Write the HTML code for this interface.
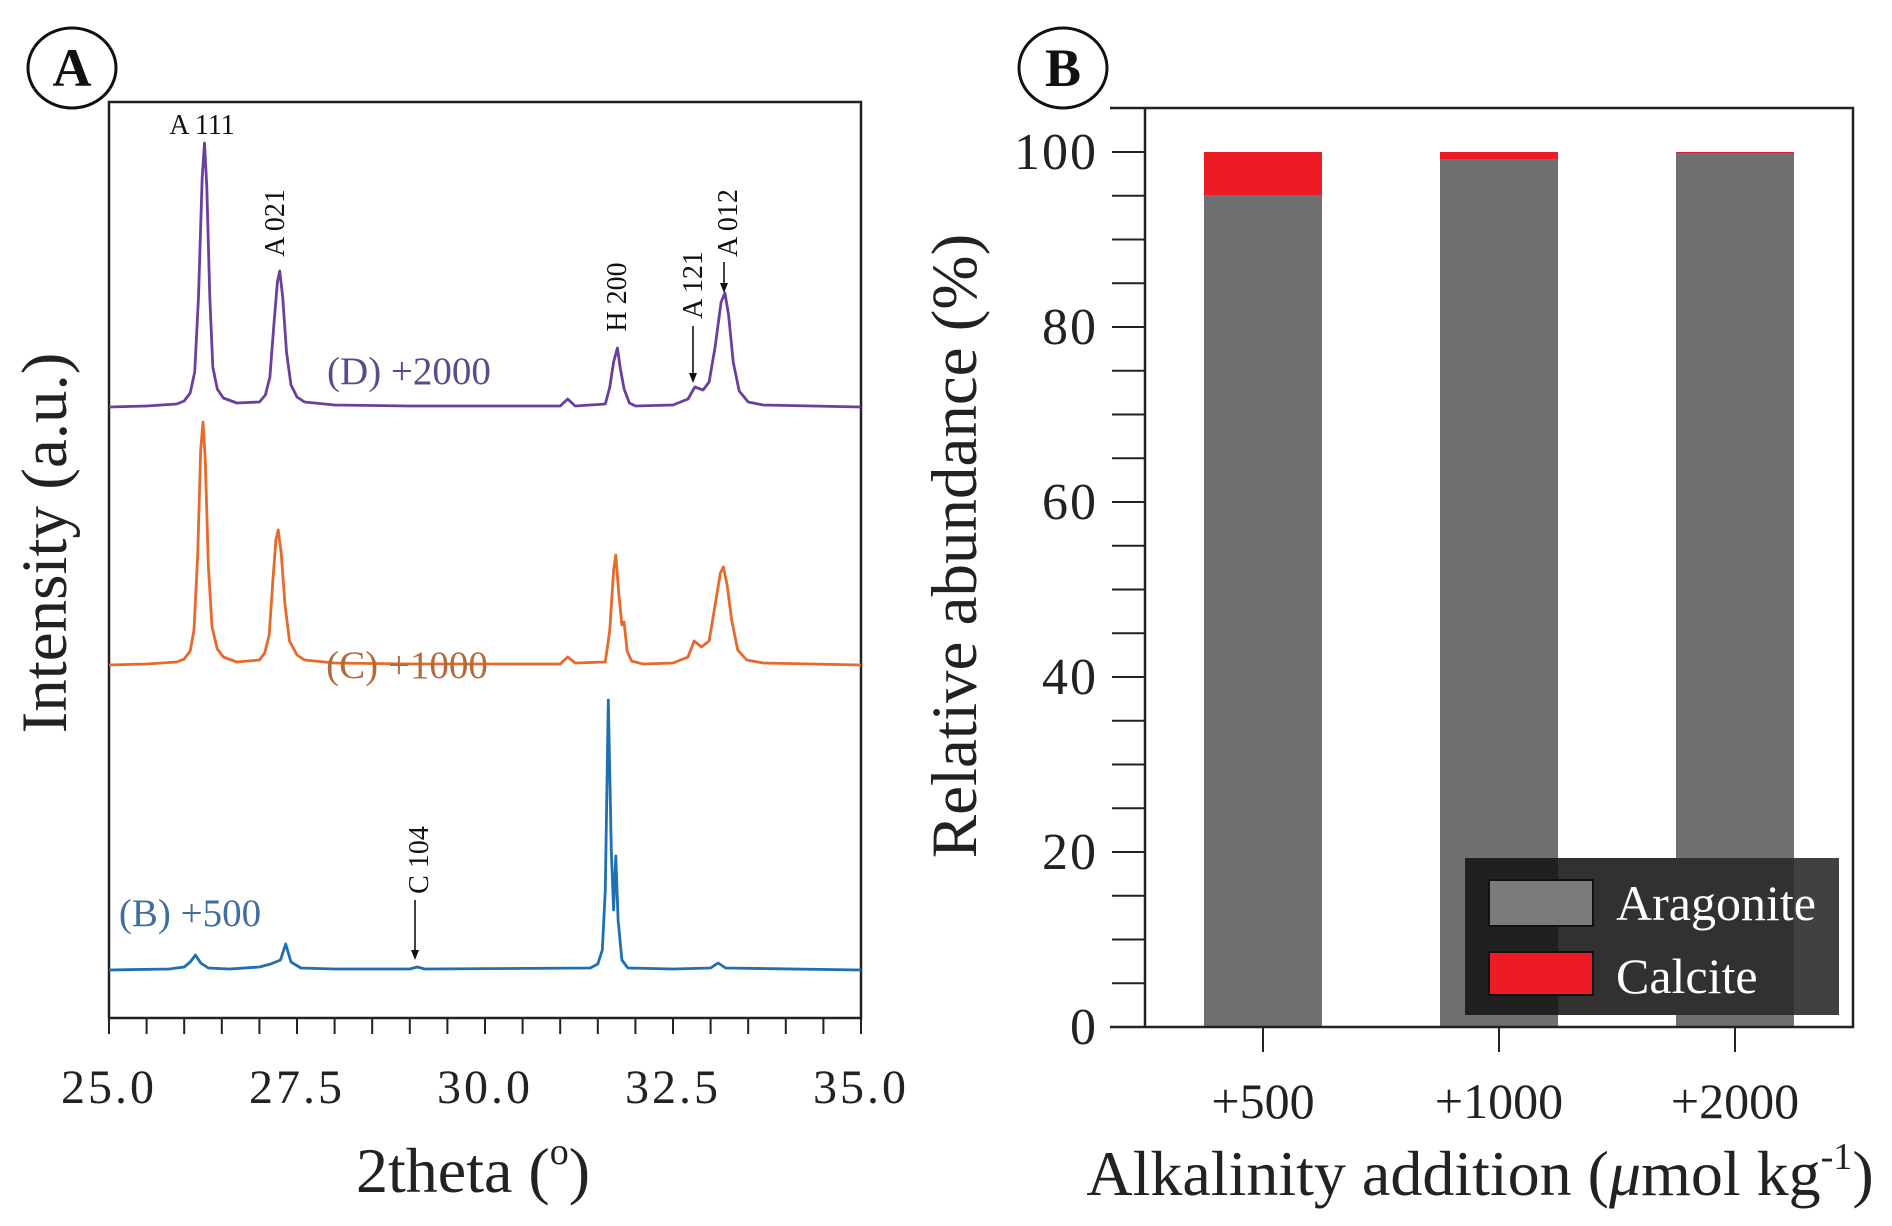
<!DOCTYPE html>
<html><head><meta charset="utf-8"><style>
html,body{margin:0;padding:0;background:#fff;}
svg{display:block;font-family:"Liberation Serif",serif;}
</style></head>
<body>
<svg id="fig" width="1892" height="1226" viewBox="0 0 1892 1226" xmlns="http://www.w3.org/2000/svg">
<g><ellipse cx="72" cy="68" rx="44" ry="40" fill="none" stroke="#111" stroke-width="3"/><text x="72" y="86" font-size="54" font-weight="bold" text-anchor="middle" fill="#111">A</text></g>
<g><ellipse cx="1063" cy="68" rx="44" ry="40" fill="none" stroke="#111" stroke-width="3"/><text x="1063" y="86" font-size="54" font-weight="bold" text-anchor="middle" fill="#111">B</text></g>
<g id="pa"></g>
<g id="pb"></g>
</svg>
<script>
// ---------- Panel A data ----------
const xTicksA = [25.0, 27.5, 30.0, 32.5, 35.0];
const xTickLabelsA = ["25.0", "27.5", "30.0", "32.5", "35.0"];
const seriesNames = ["(D) +2000", "(C) +1000", "(B) +500"];
const seriesOffsets = [611, 353, 48];
const seriesD = [[25,0],[25.5,1],[25.9,3],[26.0,6],[26.08,14],[26.14,35],[26.19,110],[26.24,230],[26.27,264],[26.3,220],[26.34,110],[26.38,40],[26.44,18],[26.52,9],[26.7,4],[27.0,5],[27.08,12],[27.14,30],[27.19,80],[27.24,125],[27.27,136],[27.31,110],[27.36,55],[27.42,22],[27.5,10],[27.6,5],[28,2],[29,1],[30,1],[31.0,1],[31.1,8],[31.2,1],[31.6,3],[31.66,20],[31.71,45],[31.76,59],[31.8,38],[31.85,18],[31.92,4],[32,1],[32.5,2],[32.7,8],[32.79,20],[32.9,17],[32.98,25],[33.06,60],[33.14,105],[33.19,114],[33.24,92],[33.3,45],[33.38,16],[33.5,5],[33.7,2],[35,0]];
const seriesC = [[25,0],[25.5,1],[25.9,3],[26.0,6],[26.08,14],[26.13,35],[26.18,110],[26.22,215],[26.25,243],[26.28,205],[26.32,100],[26.37,38],[26.44,16],[26.52,8],[26.7,3],[27.0,5],[27.07,12],[27.13,30],[27.18,85],[27.22,125],[27.25,135],[27.29,112],[27.34,60],[27.4,24],[27.5,10],[27.6,5],[28,2],[29,1],[30,1],[31.0,1],[31.1,8],[31.2,2],[31.6,3],[31.66,35],[31.71,95],[31.74,110],[31.78,70],[31.82,40],[31.85,43],[31.89,14],[31.95,4],[32.1,1],[32.5,2],[32.7,8],[32.78,24],[32.88,18],[32.98,24],[33.06,60],[33.13,92],[33.17,98],[33.22,80],[33.28,45],[33.36,15],[33.48,5],[33.7,2],[35,0]];
const seriesB = [[25,0],[25.8,1],[26.0,3],[26.08,8],[26.15,15],[26.22,7],[26.32,2],[26.6,1],[27.0,3],[27.15,6],[27.28,10],[27.35,26],[27.42,8],[27.55,2],[28,1],[29.0,1],[29.1,3],[29.2,1],[31.4,2],[31.5,6],[31.56,20],[31.6,80],[31.64,270],[31.68,120],[31.71,60],[31.74,114],[31.77,50],[31.82,10],[31.9,2],[32.5,1],[33.0,2],[33.1,7],[33.2,2],[35,0]];
const seriesColors = ["#6a3fa0", "#e8692a", "#1f6fb5"];
const labelColors = ["#5b4a8e", "#b56a3a", "#3f6f9f"];
// ---------- Panel B data ----------
const categoriesB = ["+500", "+1000", "+2000"];
const aragonite = [95, 99.2, 99.8];
const calcite = [5, 0.8, 0.2];
const yTicksB = [0, 20, 40, 60, 80, 100];

const NS = "http://www.w3.org/2000/svg";
function mk(parent, tag, attrs, txt) {
  const e = document.createElementNS(NS, tag);
  for (const k in attrs) e.setAttribute(k, attrs[k]);
  if (txt !== undefined) e.textContent = txt;
  parent.appendChild(e);
  return e;
}
// ---------- Panel A ----------
const pa = document.getElementById("pa");
const AX0 = 109, AX1 = 861, AY0 = 102, AY1 = 1018;
const xA = v => AX0 + (v - 25) / 10 * (AX1 - AX0);
const yA = v => AY1 - v;
let e;
e = mk(pa, "rect", {x: AX0, y: AY0, width: AX1 - AX0, height: AY1 - AY0, fill: "none", stroke: "#222", "stroke-width": 2.5});


for (let v = 25; v <= 35.001; v += 0.5) {
  e = mk(pa, "line", {x1: xA(v), x2: xA(v), y1: AY1, y2: AY1 + 16, stroke: "#222", "stroke-width": 2});
  
  
}
xTicksA.forEach((v, i) => {
  e = mk(pa, "text", {x: xA(v), y: 1103, "font-size": 48, "text-anchor": "middle", fill: "#222", "letter-spacing": 3}, xTickLabelsA[i]);
  
  
});
e = mk(pa, "text", {x: 473, y: 1192, "font-size": 64, "text-anchor": "middle", fill: "#222"});
e.innerHTML = '2theta (<tspan font-size="38" dy="-28">o</tspan><tspan dy="28">)</tspan>';


e = mk(pa, "text", {x: 0, y: 0, "font-size": 65, "text-anchor": "middle", fill: "#222", transform: "translate(66,543) rotate(-90)"}, "Intensity (a.u.)");


const allSeries = [seriesD, seriesC, seriesB];
allSeries.forEach((s, i) => {
  const d = s.map((p, j) => (j ? "L" : "M") + xA(p[0]).toFixed(1) + " " + yA(p[1] + seriesOffsets[i]).toFixed(1)).join(" ");
  e = mk(pa, "path", {d: d, fill: "none", stroke: seriesColors[i], "stroke-width": 2.8, "stroke-linejoin": "round"});
  
  
});
[[409, 384], [407, 678], [190, 926]].forEach((p, i) => {
  e = mk(pa, "text", {x: p[0], y: p[1], "font-size": 39, "text-anchor": "middle", fill: labelColors[i]}, seriesNames[i]);
  
  
});
e = mk(pa, "text", {x: 202, y: 134, "font-size": 28, "text-anchor": "middle", fill: "#111"}, "A 111");


[["A 021", 275, 223], ["H 200", 617, 297], ["A 121", 693, 285], ["A 012", 728, 223], ["C 104", 419, 860]].forEach(l => {
  e = mk(pa, "text", {x: 0, y: 0, "font-size": 28, "text-anchor": "middle", fill: "#111", transform: `translate(${l[1] + 9},${l[2]}) rotate(-90)`}, l[0]);
  
  
});
[[693, 326, 693, 383], [724, 262, 724, 293], [415, 900, 415, 960]].forEach(a => {
  e = mk(pa, "line", {x1: a[0], y1: a[1], x2: a[2], y2: a[3] - 8, stroke: "#111", "stroke-width": 1.6});
  
  
  mk(pa, "polygon", {points: `${a[2] - 4},${a[3] - 10} ${a[2] + 4},${a[3] - 10} ${a[2]},${a[3]}`, fill: "#111"});
});
// ---------- Panel B ----------
const pb = document.getElementById("pb");
const BX0 = 1145, BX1 = 1853, BY0 = 108, BY1 = 1027;
const yB = v => BY1 - v / 100 * 875;
const xB = i => 1263 + i * 236;
const barW = 118;
categoriesB.forEach((c, i) => {
  e = mk(pb, "rect", {x: xB(i) - barW / 2, y: yB(aragonite[i]), width: barW, height: yB(0) - yB(aragonite[i]), fill: "#707072"});
  
  
  e = mk(pb, "rect", {x: xB(i) - barW / 2, y: yB(aragonite[i] + calcite[i]), width: barW, height: yB(aragonite[i]) - yB(aragonite[i] + calcite[i]), fill: "#ed1c24"});
  
  
});
mk(pb, "path", {d: `M1110 ${BY0} H${BX1} V${BY1} H1110 M${BX0} ${BY0} V${BY1}`, fill: "none", stroke: "#222", "stroke-width": 2.5});
for (let v = 0; v <= 100; v += 5) {
  e = mk(pb, "line", {x1: BX0 - 33, x2: BX0, y1: yB(v), y2: yB(v), stroke: "#222", "stroke-width": 2});
  
  
}
yTicksB.forEach(v => {
  e = mk(pb, "text", {x: 1098, y: yB(v) + 17, "font-size": 52, "text-anchor": "end", fill: "#222", "letter-spacing": 2}, String(v));
  
  
});
categoriesB.forEach((c, i) => {
  mk(pb, "line", {x1: xB(i), x2: xB(i), y1: BY1, y2: BY1 + 25, stroke: "#222", "stroke-width": 2});
  e = mk(pb, "text", {x: xB(i), y: 1118, "font-size": 50, "text-anchor": "middle", fill: "#222"}, c);
  
  
});
e = mk(pb, "text", {x: 1480, y: 1195, "font-size": 64, "text-anchor": "middle", fill: "#222"});
e.innerHTML = 'Alkalinity addition (<tspan font-style="italic">μ</tspan>mol kg<tspan font-size="38" dy="-26">-1</tspan><tspan dy="26">)</tspan>';


e = mk(pb, "text", {x: 0, y: 0, "font-size": 65, "text-anchor": "middle", fill: "#222", transform: "translate(976,546) rotate(-90)"}, "Relative abundance (%)");


// legend
const lg = mk(pb, "g", {});


mk(lg, "rect", {x: 1465, y: 858, width: 374, height: 157, fill: "rgba(20,20,20,0.88)"});
mk(lg, "rect", {x: 1676, y: 858, width: 163, height: 157, fill: "rgba(255,255,255,0.08)"});
e = mk(lg, "rect", {x: 1489, y: 880, width: 104, height: 46, fill: "#7b7b7d", stroke: "#111", "stroke-width": 2});


e = mk(lg, "rect", {x: 1489, y: 952, width: 104, height: 43, fill: "#ed1c24", stroke: "#111", "stroke-width": 2});


e = mk(lg, "text", {x: 1616, y: 920, "font-size": 50, fill: "#fff"}, "Aragonite");


e = mk(lg, "text", {x: 1616, y: 993, "font-size": 50, fill: "#fff"}, "Calcite");


</script>
</body></html>
